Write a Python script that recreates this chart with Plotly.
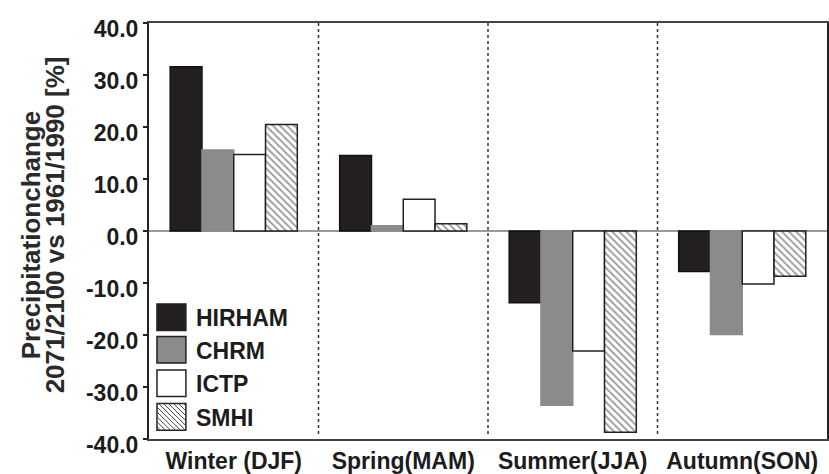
import plotly.graph_objects as go

categories = ["Winter (DJF)", "Spring(MAM)", "Summer(JJA)", "Autumn(SON)"]
models = ["HIRHAM", "CHRM", "ICTP", "SMHI"]
hirham = [31.6, 14.5, -13.8, -7.8]
chrm = [15.6, 1.0, -33.5, -19.9]
ictp = [14.7, 6.1, -23.1, -10.2]
smhi = [20.5, 1.4, -38.7, -8.7]
yticks = [-40, -30, -20, -10, 0, 10, 20, 30, 40]
ytick_text = ["%.1f" % v for v in yticks]
ytitle_lines = ["Precipitationchange", "2071/2100 vs 1961/1990 [%]"]

series = [hirham, chrm, ictp, smhi]
fills = ["#231f20", "#8b8b8d", "#ffffff", "#ffffff"]
edges = ["#111111", "#8b8b8d", "#222222", "#222222"]
FONT = "Liberation Sans, Arial, sans-serif"
TXT = "#1c1c1c"

fig = go.Figure()
for name, vals, fc, ec in zip(models, series, fills, edges):
    marker = dict(color=fc, line=dict(color=ec, width=1.5))
    if name == "SMHI":
        marker["pattern"] = dict(shape="\\", fgcolor="#333333", bgcolor="#ffffff",
                                 size=5, solidity=0.35)
    fig.add_trace(go.Bar(x=categories, y=vals, name=name, marker=marker,
                         showlegend=False))

# layout geometry (pixels)
W, H = 829, 474
L, R, T, B = 149, 0, 23, 29
pw, ph = W - L - R, H - T - B

def px2paper(x, y):
    return (x - L) / pw, (H - B - y) / ph

shapes = []
# dotted separators between categories
for i in range(len(categories) - 1):
    shapes.append(dict(type="line", xref="x", yref="paper", x0=i + 0.5, x1=i + 0.5,
                       y0=0.012, y1=1, line=dict(color="#333333", width=1.5, dash="dot"),
                       layer="above"))

# custom legend
annotations = []
sw_x0, sw_x1 = 157, 186
item_top = [308, 341, 375, 409]
for k, name in enumerate(models):
    y0p, y1p = item_top[k], item_top[k] + 27
    ax0, ay0 = px2paper(sw_x0, y1p)
    ax1, ay1 = px2paper(sw_x1, y0p)
    shapes.append(dict(type="rect", xref="paper", yref="paper", x0=ax0, x1=ax1, y0=ay0, y1=ay1,
                       fillcolor=fills[k], line=dict(color="#222222", width=1.5),
                       layer="above"))
    if name == "SMHI":
        step = 5
        c = -(sw_x1 - sw_x0) + step / 2
        while c < (y1p - y0p):
            pts = []
            for px in (sw_x0, sw_x1):
                py = y0p + c + (px - sw_x0)
                if y0p <= py <= y1p:
                    pts.append((px, py))
            for py in (y0p, y1p):
                px = sw_x0 + (py - y0p) - c
                if sw_x0 <= px <= sw_x1:
                    pts.append((px, py))
            if len(pts) >= 2:
                pts = sorted(set(pts))
                (xa, ya), (xb, yb) = pts[0], pts[-1]
                p0 = px2paper(xa, ya)
                p1 = px2paper(xb, yb)
                shapes.append(dict(type="line", xref="paper", yref="paper",
                                   x0=p0[0], y0=p0[1], x1=p1[0], y1=p1[1],
                                   line=dict(color="#444444", width=1), layer="above"))
            c += step
    tx, ty = px2paper(194, (y0p + y1p) / 2 + 1)
    annotations.append(dict(xref="paper", yref="paper", x=tx, y=ty, text="<b>%s</b>" % name,
                            showarrow=False, xanchor="left", yanchor="middle",
                            font=dict(family=FONT, size=23, color=TXT)))

# y-axis title, two tightly spaced lines
for line_text, cx, cy in zip(ytitle_lines, [31, 55], [238, 228]):
    tx, ty = px2paper(cx, cy)
    annotations.append(dict(xref="paper", yref="paper", x=tx, y=ty, text="<b>%s</b>" % line_text,
                            textangle=-90, showarrow=False, xanchor="center", yanchor="middle",
                            font=dict(family=FONT, size=26, color="#2a2a2a")))

fig.update_layout(
    width=W, height=H,
    margin=dict(l=L, r=R, t=T, b=B),
    paper_bgcolor="white", plot_bgcolor="white",
    barmode="group", bargap=0.25, bargroupgap=0,
    font=dict(family=FONT, size=23, color=TXT),
    shapes=shapes, annotations=annotations,
    showlegend=False,
)
fig.update_xaxes(
    type="category", showline=True, linecolor="#444444", linewidth=2, mirror=True,
    ticks="", showgrid=False, tickfont=dict(family=FONT, size=23, color=TXT),
    ticktext=["<b>%s</b>" % c for c in categories], tickvals=categories,
)
fig.update_yaxes(
    range=[-40, 40], tickvals=yticks, ticktext=["<b>%s</b>" % t for t in ytick_text],
    showline=True, linecolor="#222222", linewidth=2, mirror=True,
    ticks="outside", ticklen=4, tickwidth=1.5, tickcolor="#222222",
    showgrid=False, zeroline=True, zerolinecolor="#999999", zerolinewidth=2,
    tickfont=dict(family=FONT, size=23, color=TXT), ticklabelshift=6,
)

fig.write_html("out.html")
